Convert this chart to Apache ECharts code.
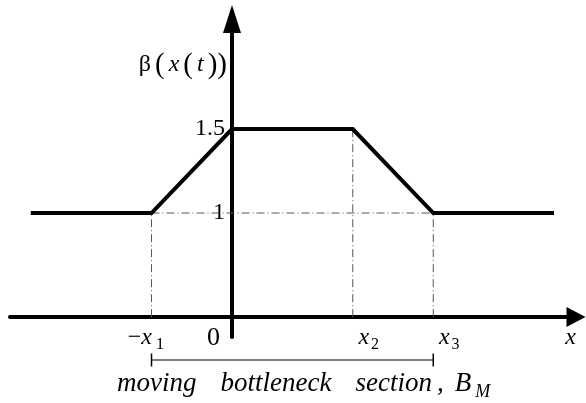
<!DOCTYPE html>
<html>
<head>
<meta charset="utf-8">
<script src="https://cdn.jsdelivr.net/npm/echarts@6/dist/echarts.min.js"></script>
<style>
  html, body { margin: 0; padding: 0; background: #fff; }
  #chart { width: 586px; height: 403px; }
</style>
</head>
<body>
<div id="chart"></div>
<script>
// Piecewise-linear β(x(t)) profile around a moving bottleneck
const profileX = [-2.5, -1, 0, 1.5, 2.5, 4];
const profileY = [1, 1, 1.5, 1.5, 1, 1];

// Named positions along the x axis and their labels
const markX = [-1, 0, 1.5, 2.5];
const markNames = ['-x1', '0', 'x2', 'x3'];

// Tick values shown on the β axis
const yTicks = [1, 1.5];

// Extent of the moving bottleneck section (from −x1 to x3)
const sectionX = [-1, 2.5];

// Value on the β scale where the horizontal axis is drawn
const axisLevel = 0.38;

// Axis ranges
const X_MIN = -2.758, X_MAX = 4.273;
const Y_MIN = 0.262, Y_MAX = 2.155;

const SERIF = "'Liberation Serif', 'DejaVu Serif', serif";

const base = { fontFamily: SERIF, color: '#000', fontWeight: 'normal' };
const mathRich = {
  n: { ...base, fontSize: 24, lineHeight: 26 },
  i: { ...base, fontSize: 24, fontStyle: 'italic', lineHeight: 26 },
  s: { ...base, fontSize: 16, padding: [14, 0, 0, 2], lineHeight: 26 },
  // label variants carrying their own horizontal offsets
  x1s: { ...base, fontSize: 17, padding: [14, 11, 0, 4], lineHeight: 26 },
  zero: { ...base, fontSize: 26, padding: [0, 37, 0, 0], lineHeight: 26 },
  xr: { ...base, fontSize: 24, fontStyle: 'italic', padding: [0, 0, 0, 32], lineHeight: 26 },
  p: { ...base, fontSize: 29, padding: [0, 4, 0, 4], lineHeight: 30 },
  // caption words with their spacing
  c: { ...base, fontSize: 27, fontStyle: 'italic', lineHeight: 30 },
  cw: { ...base, fontSize: 27, fontStyle: 'italic', lineHeight: 30, padding: [0, 0, 0, 24] },
  cc: { ...base, fontSize: 27, fontStyle: 'italic', lineHeight: 30, padding: [0, 0, 0, 5] },
  cb: { ...base, fontSize: 27, fontStyle: 'italic', lineHeight: 30, padding: [0, 0, 0, 11] },
  cs: { ...base, fontSize: 18, fontStyle: 'italic', padding: [16, 0, 0, 4], lineHeight: 30 }
};

function markLabel(value) {
  const idx = markX.indexOf(value);
  if (idx < 0) return '';
  const name = markNames[idx];
  if (name === '0') return '{zero|0}';
  if (name.charAt(0) === '-') return '{n|\u2212}{i|x}{x1s|' + name.slice(2) + '}';
  return '{xr|x}{s|' + name.slice(1) + '}';
}

const profileData = profileX.map((x, i) => [x, profileY[i]]);

// Dash-dot guide lines: level β = 1 across the section, and drops to the axis
const guideSeries = [];
const dashStyle = { color: '#555', width: 1, type: [8, 3, 1, 3] };
guideSeries.push({
  type: 'line',
  data: [[profileX[1], profileY[1]], [profileX[4], profileY[4]]],
  showSymbol: false, silent: true, lineStyle: dashStyle, z: 2
});
[1, 3, 4].forEach(k => {
  guideSeries.push({
    type: 'line',
    data: [[profileX[k], axisLevel], [profileX[k], profileY[k]]],
    showSymbol: false, silent: true, lineStyle: dashStyle, z: 2
  });
});

const chart = echarts.init(document.getElementById('chart'), null, { renderer: 'canvas' });

chart.setOption({
  animation: false,
  backgroundColor: '#fff',
  title: {
    text: '{c|moving}{cw|bottleneck}{cw|section}{cc|,}{cb|B}{cs|M}',
    left: 112,
    top: 364,
    textStyle: { fontWeight: 'normal', rich: mathRich }
  },
  grid: [
    { left: 10, right: 10, top: 19, bottom: 66, outerBoundsMode: 'none', containLabel: false },
    { left: 10, right: 10, top: 354, height: 12, outerBoundsMode: 'none', containLabel: false }
  ],
  xAxis: [
    {
      type: 'value', gridIndex: 0, min: X_MIN, max: X_MAX,
      position: 'bottom', offset: -20,
      axisLine: {
        onZero: false,
        lineStyle: { color: '#000', width: 4 },
        symbol: ['none', 'triangle'], symbolSize: [20, 19]
      },
      axisTick: { show: false },
      splitLine: { show: false },
      axisLabel: { customValues: markX, formatter: markLabel, margin: 8, rich: mathRich },
      name: '{i|x}',
      nameLocation: 'end',
      nameGap: 0,
      nameTextStyle: { align: 'right', verticalAlign: 'top', padding: [8, 0, 0, 0], rich: mathRich }
    },
    { type: 'value', gridIndex: 1, min: X_MIN, max: X_MAX, show: false }
  ],
  yAxis: [
    {
      type: 'value', gridIndex: 0, min: Y_MIN, max: Y_MAX,
      position: 'left', offset: -222,
      axisLine: {
        show: true, onZero: false,
        lineStyle: { color: '#000', width: 4 },
        symbol: ['none', 'triangle'], symbolSize: [18, 28]
      },
      axisTick: { show: false },
      splitLine: { show: false },
      axisLabel: {
        customValues: yTicks, margin: 7,
        fontFamily: SERIF, fontSize: 24, color: '#000'
      },
      name: '{n|\u03b2}{p|(}{i|x}{p|(}{i|t}{p|))}',
      nameLocation: 'end',
      nameGap: -46,
      nameTextStyle: { align: 'right', verticalAlign: 'middle', padding: [0, 1, 0, 0], rich: mathRich }
    },
    { type: 'value', gridIndex: 1, min: -1, max: 1, show: false }
  ],
  series: [
    ...guideSeries,
    {
      type: 'line',
      data: profileData,
      showSymbol: false,
      silent: true,
      lineStyle: { color: '#000', width: 4, join: 'miter' },
      z: 5
    },
    {
      type: 'line',
      xAxisIndex: 1, yAxisIndex: 1,
      data: sectionX.map(x => [x, 0]),
      symbol: 'rect', symbolSize: [1.5, 13], showSymbol: true,
      itemStyle: { color: '#000' },
      lineStyle: { color: '#000', width: 1 },
      silent: true
    }
  ]
});
</script>
</body>
</html>
